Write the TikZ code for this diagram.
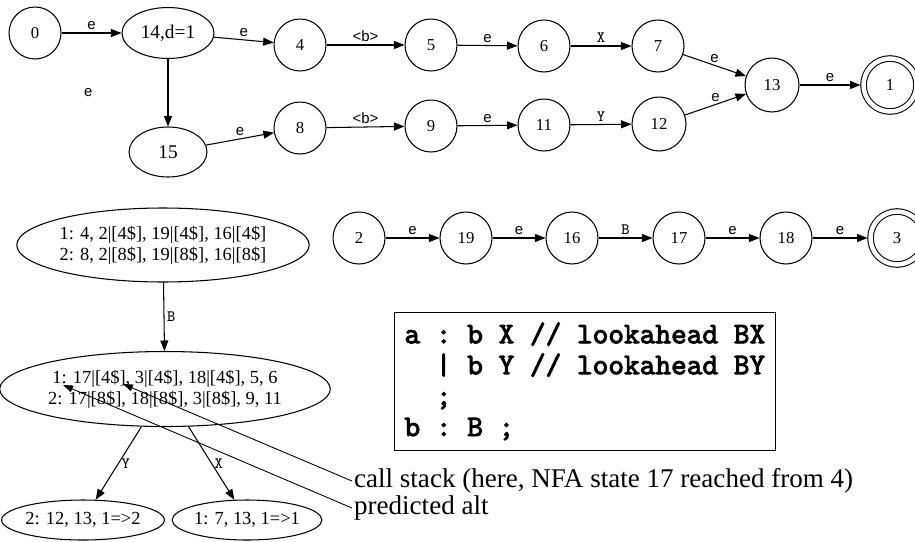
\documentclass[tikz,border=0pt]{standalone}
\usepackage{fontspec}
\setmainfont{Liberation Serif}
\setsansfont{Liberation Sans}
\newfontfamily\codefont{lmmono10-regular.otf}[FakeBold=3]
\usetikzlibrary{positioning,arrows.meta,shapes.geometric}

\begin{document}
\begin{tikzpicture}[x=0.02cm, y=-0.02cm,
  st/.style={circle, draw, line width=0.6pt, minimum size=1.04cm, inner sep=0pt, font=\fontsize{9.5}{11}\selectfont},
  acc/.style={st, double, double distance=0.9mm, minimum size=1.06cm, outer sep=0.6mm},
  ell/.style={ellipse, draw, line width=0.6pt, inner sep=0pt, align=center, font=\fontsize{10.5}{12}\selectfont},
  arr/.style={-{Triangle[length=2.1mm,width=1.6mm]}, line width=0.6pt},
  elbl/.style={font=\sffamily\fontsize{8.5}{9}\selectfont, above, inner sep=1.5pt},
  tlbl/.style={font=\ttfamily\fontsize{9}{10}\selectfont, above, inner sep=1.5pt},
  note/.style={font=\fontsize{15.4}{17}\selectfont, anchor=west, inner sep=1pt},
  carr/.style={-{Triangle[length=2mm,width=1.4mm]}, line width=0.5pt},
]
\useasboundingbox (0,0) rectangle (915,541);

% ============ NFA for a ============
\node[st] (s0) at (35,33) {0};
\node[ell, minimum width=1.84cm, minimum height=1.02cm, font=\fontsize{11}{13}\selectfont] (s14) at (168,33) {14,d=1};
\node[st] (s4)  at (300,45) {4};
\node[st] (s5)  at (431,45) {5};
\node[st] (s6)  at (544,46) {6};
\node[st] (s7)  at (658,46) {7};
\node[st, minimum size=1.08cm] (s13) at (772,85) {13};
\node[acc] (s1) at (890,85) {1};
\node[ell, minimum width=1.56cm, minimum height=1.0cm, font=\fontsize{11}{13}\selectfont] (s15) at (168,152) {15};
\node[st] (s8)  at (300,128) {8};
\node[st] (s9)  at (431,126) {9};
\node[st] (s11) at (544,125) {11};
\node[st, minimum size=1.08cm] (s12) at (659,124) {12};

\draw[arr] (s0)--node[elbl]{e}(s14);
\draw[arr] (s14)--node[elbl]{e}(s4);
\draw[arr] (s4)--node[elbl]{<b>}(s5);
\draw[arr] (s5)--node[elbl]{e}(s6);
\draw[arr] (s6)--node[tlbl]{X}(s7);
\draw[arr] (s7)--node[elbl]{e}(s13);
\draw[arr] (s13)--node[elbl]{e}(s1);
\draw[arr] (s14)--node[elbl, left=1.45cm]{e}(s15);
\draw[arr] (s15)--node[elbl]{e}(s8);
\draw[arr] (s8)--node[elbl]{<b>}(s9);
\draw[arr] (s9)--node[elbl]{e}(s11);
\draw[arr] (s11)--node[tlbl]{Y}(s12);
\draw[arr] (s12)--node[elbl]{e}(s13);

% ============ NFA for b ============
\node[st] (s2)  at (359,238) {2};
\node[st] (s19) at (466,238) {19};
\node[st] (s16) at (572,238) {16};
\node[st] (s17) at (679,238) {17};
\node[st] (s18) at (786,238) {18};
\node[acc] (s3) at (897,238) {3};

\draw[arr] (s2)--node[elbl]{e}(s19);
\draw[arr] (s19)--node[elbl]{e}(s16);
\draw[arr] (s16)--node[tlbl]{B}(s17);
\draw[arr] (s17)--node[elbl]{e}(s18);
\draw[arr] (s18)--node[elbl]{e}(s3);

% ============ DFA ============
\node[ell, minimum width=4.9cm, minimum height=1.48cm] (d1) at (163,245)
  {1: 4, 2|[4\$], 19|[4\$], 16|[4\$]\\2: 8, 2|[8\$], 19|[8\$], 16|[8\$]};
\node[ell, minimum width=5.4cm, minimum height=1.5cm] (d2) at (165,389)
  {1: 17|[4\$], 3|[4\$], 18|[4\$], 5, 6\\2: 17|[8\$], 18|[8\$], 3|[8\$], 9, 11};
\node[ell, minimum width=2.9cm, minimum height=0.8cm] (d3) at (83,520) {2: 12, 13, 1=>2};
\node[ell, minimum width=2.7cm, minimum height=0.8cm] (d4) at (247,520) {1: 7, 13, 1=>1};

\draw[arr] (d1)--node[tlbl, right]{B}(d2);
\draw[arr] (d2)--node[tlbl, right]{Y}(d3);
\draw[arr] (d2)--node[tlbl, right]{X}(d4);

% ============ grammar ============
\node[draw, line width=0.6pt, anchor=north west, align=left, inner xsep=0.2cm, inner ysep=0.2cm,
  font=\codefont\frenchspacing\fontsize{17}{17.6}\selectfont] (gram) at (394,312)
  {a : b X // lookahead BX\\
   \hphantom{a }| b Y // lookahead BY\\
   \hphantom{a };\\
   b : B ;};

% ============ callouts ============
\node[note] (cs) at (352,481) {call stack (here, NFA state 17 reached from 4)};
\node[note] (pa) at (352,508) {predicted alt};
\coordinate (cst) at (123,384);
\coordinate (pat) at (63,385);
\draw[carr] (cs.west)--(cst);
\draw[carr] (pa.west)--(pat);
\end{tikzpicture}
\end{document}
